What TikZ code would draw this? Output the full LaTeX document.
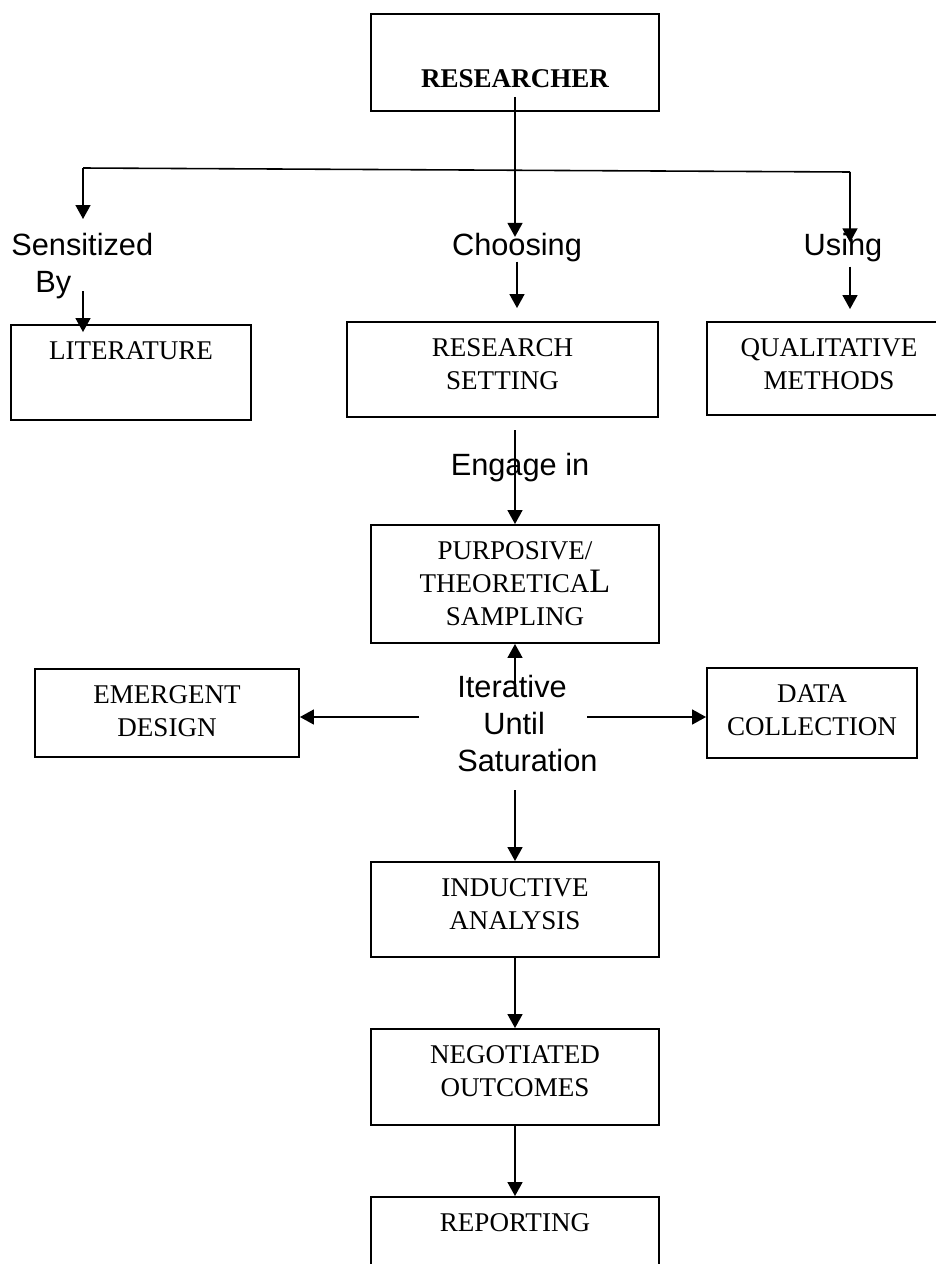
\documentclass[tikz,border=0pt]{standalone}
\usepackage{fontspec}
\setmainfont{Liberation Serif}
\newfontfamily\arialfont{Liberation Sans}
\usetikzlibrary{arrows.meta}

\tikzset{
  stage/.style={draw, rectangle, line width=1.1pt, inner sep=0pt},
  boxtext/.style={anchor=north, align=center, inner sep=0pt, yshift=-0.34cm,
    font=\fontsize{15.4}{18.8}\selectfont},
  lbl/.style={inner sep=0pt, font=\arialfont\fontsize{17.5}{21}\selectfont},
  link/.style={line width=0.9pt},
  arr/.style={link, -{Triangle[length=0.28cm,width=0.3cm]}}
}

\begin{document}
\begin{tikzpicture}[x=0.02cm, y=-0.02cm]
  \useasboundingbox (0,0) rectangle (936,1264);
  \clip (0,0) rectangle (936,1264);

  % boxes
  \node[stage, minimum width=5.76cm, minimum height=1.94cm,
    label={[boxtext, yshift=-0.78cm, font=\bfseries\fontsize{15.4}{18.8}\selectfont]north:RESEARCHER}] (researcher) at (515,62.5) {};
  \node[stage, minimum width=4.8cm, minimum height=1.9cm,
    label={[boxtext]north:LITERATURE}] (lit) at (131,372.5) {};
  \node[stage, minimum width=6.22cm, minimum height=1.9cm,
    label={[boxtext]north:RESEARCH\\SETTING}] (setting) at (502.5,369.5) {};
  \node[stage, minimum width=4.88cm, minimum height=1.86cm,
    label={[boxtext]north:QUALITATIVE\\METHODS}] (qual) at (829,368.5) {};
  \node[stage, minimum width=5.76cm, minimum height=2.36cm,
    label={[boxtext]north:PURPOSIVE/\\THEORETICA{\fontsize{19.5}{18.8}\selectfont L}\\SAMPLING}] (purp) at (515,584) {};
  \node[stage, minimum width=5.28cm, minimum height=1.76cm,
    label={[boxtext]north:EMERGENT\\DESIGN}] (emergent) at (167,713) {};
  \node[stage, minimum width=4.2cm, minimum height=1.8cm,
    label={[boxtext]north:DATA\\COLLECTION}] (data) at (812,713) {};
  \node[stage, minimum width=5.76cm, minimum height=1.9cm,
    label={[boxtext]north:INDUCTIVE\\ANALYSIS}] (induct) at (515,909.5) {};
  \node[stage, minimum width=5.76cm, minimum height=1.92cm,
    label={[boxtext]north:NEGOTIATED\\OUTCOMES}] (neg) at (515,1077) {};
  \node[stage, minimum width=5.76cm, minimum height=1.86cm,
    label={[boxtext]north:REPORTING}] (report) at (515,1243.5) {};

  % labels on the links
  \node[lbl, anchor=north west, align=left] (sens) at (11,233) {Sensitized\\\hspace*{0.48cm}By};
  \node[lbl, anchor=base] (choosing) at (517,255) {Choosing};
  \node[lbl, anchor=base] (using) at (843,255) {Using};
  \node[lbl, anchor=base] (engage) at (520,475) {Engage in};
  \node[lbl, anchor=north west, align=left] (iter) at (457,675) {Iterative\\\hspace*{0.52cm}Until\\Saturation};

  \coordinate (rStem) at (515,97);
  \coordinate (barL) at (83,168);
  \coordinate (barR) at (850,172);
  \coordinate (byTail) at (83,291);
  \coordinate (engTail) at (515,430);
  \coordinate (itUp) at (515,695);
  \coordinate (itL) at (419,717);
  \coordinate (itR) at (587,717);
  \coordinate (itDown) at (515,790);

  % links
  \draw[arr, shorten >=-0.09cm] (rStem) -- (rStem |- choosing.north);
  \draw[link] (barL) -- (barR);
  \draw[arr, shorten >=0.28cm] (barL) -- (barL |- sens.north);
  \draw[arr, shorten >=-0.2cm] (barR) -- (barR |- using.north);
  \draw[arr, shorten >=-0.16cm] (byTail) -- (byTail |- lit.north);
  \draw[arr, shorten >=0.26cm] (choosing.south) -- (choosing.south |- setting.north);
  \draw[arr, shorten <=0.1cm, shorten >=0.24cm] (using.south -| barR) -- (barR |- qual.north);
  \draw[arr] (engTail) -- (engTail |- purp.north);
  \draw[arr] (itUp) -- (itUp |- purp.south);
  \draw[arr] (itL) -- (itL -| emergent.east);
  \draw[arr] (itR) -- (itR -| data.west);
  \draw[arr] (itDown) -- (itDown |- induct.north);
  \draw[arr] (induct.south) -- (neg.north);
  \draw[arr] (neg.south) -- (report.north);
\end{tikzpicture}
\end{document}
